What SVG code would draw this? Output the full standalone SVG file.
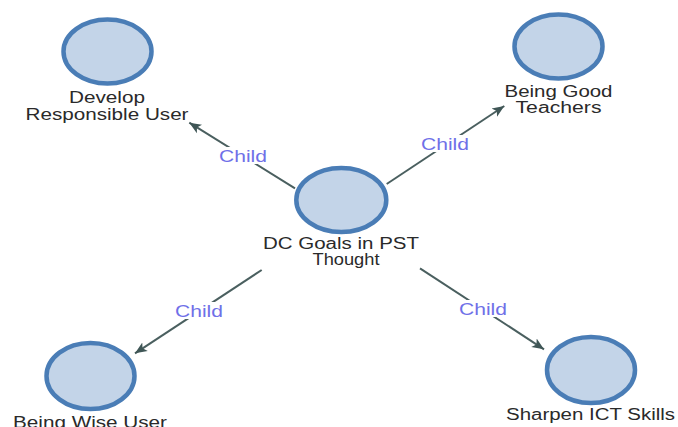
<svg xmlns="http://www.w3.org/2000/svg" width="678" height="427" viewBox="0 0 678 427">
<style>
.node ellipse{fill:#c3d4e8;stroke:#4a7db6;stroke-width:4.5}
.node text{font-family:"Liberation Sans",Arial,sans-serif;font-size:16px;fill:#2a2a2a;text-anchor:middle}
.edge line{stroke:#4a5f5f;stroke-width:2}
.lbl rect{fill:#fff}
.lbl text{font-family:"Liberation Sans",Arial,sans-serif;font-size:16.5px;fill:#6f70e8;text-anchor:middle}
</style>
<defs>
<marker id="arr" markerUnits="userSpaceOnUse" markerWidth="14" markerHeight="12" refX="12" refY="5" orient="auto" viewBox="0 0 14 10">
<path d="M0,0 L12,5 L0,10 L3,5 z" fill="#3f5656"/>
</marker>
</defs>
<rect width="678" height="427" fill="#fff"/>
<g id="connectors">
<g class="edge"><line x1="295" y1="188.3" x2="189.3" y2="122.7" marker-end="url(#arr)"/></g>
<g class="edge"><line x1="386.7" y1="184" x2="504.3" y2="106" marker-end="url(#arr)"/></g>
<g class="edge"><line x1="261.7" y1="270" x2="135" y2="353.3" marker-end="url(#arr)"/></g>
<g class="edge"><line x1="420" y1="268.3" x2="544" y2="349.3" marker-end="url(#arr)"/></g>
<g class="lbl"><rect x="217" y="147" width="52" height="17"/><text x="243" y="161.7" textLength="48" lengthAdjust="spacingAndGlyphs">Child</text></g>
<g class="lbl"><rect x="419" y="135" width="52" height="17"/><text x="445" y="150" textLength="48" lengthAdjust="spacingAndGlyphs">Child</text></g>
<g class="lbl"><rect x="173" y="302" width="52" height="17"/><text x="199" y="317" textLength="48" lengthAdjust="spacingAndGlyphs">Child</text></g>
<g class="lbl"><rect x="457" y="300" width="52" height="17"/><text x="483" y="315" textLength="48" lengthAdjust="spacingAndGlyphs">Child</text></g>
</g>
<g id="node-center" class="node">
<ellipse cx="341.3" cy="200" rx="45" ry="32"/>
<text x="341" y="249" textLength="156" lengthAdjust="spacingAndGlyphs">DC Goals in PST</text>
<text x="346" y="265" textLength="67" lengthAdjust="spacingAndGlyphs">Thought</text>
</g>
<g id="node-develop" class="node">
<ellipse cx="107.5" cy="51.5" rx="44" ry="32"/>
<text x="107" y="103" textLength="76" lengthAdjust="spacingAndGlyphs">Develop</text>
<text x="107" y="120" textLength="163" lengthAdjust="spacingAndGlyphs">Responsible User</text>
</g>
<g id="node-good" class="node">
<ellipse cx="558.5" cy="46.5" rx="44" ry="32"/>
<text x="558.5" y="97" textLength="108" lengthAdjust="spacingAndGlyphs">Being Good</text>
<text x="558.5" y="113" textLength="86" lengthAdjust="spacingAndGlyphs">Teachers</text>
</g>
<g id="node-wise" class="node">
<ellipse cx="90.5" cy="376" rx="44" ry="33"/>
<text x="90" y="428" textLength="154" lengthAdjust="spacingAndGlyphs">Being Wise User</text>
</g>
<g id="node-sharpen" class="node">
<ellipse cx="591" cy="370" rx="44" ry="33"/>
<text x="590.5" y="420" textLength="169" lengthAdjust="spacingAndGlyphs">Sharpen ICT Skills</text>
</g>
</svg>
